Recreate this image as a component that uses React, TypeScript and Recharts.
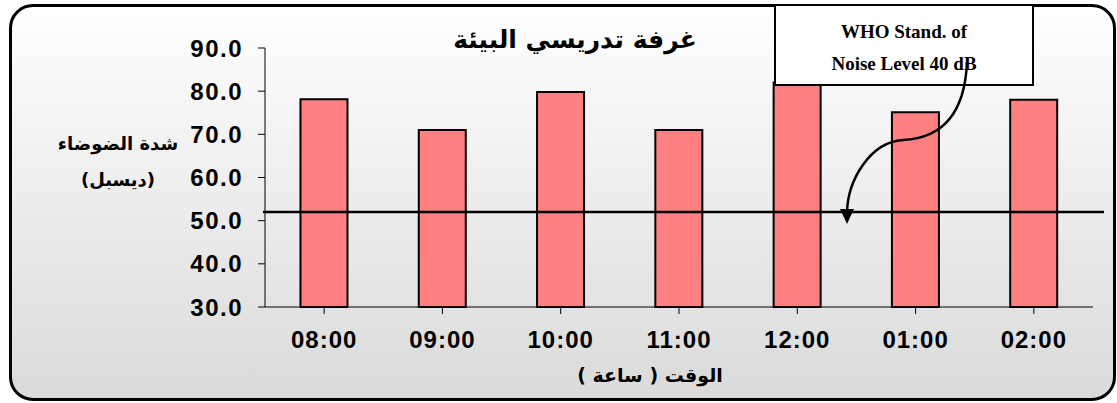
import React from "react";
import {
  BarChart,
  Bar,
  XAxis,
  YAxis,
  ReferenceLine,
} from "recharts";

const hours = ["08:00", "09:00", "10:00", "11:00", "12:00", "01:00", "02:00"];
const noiseLevels = [78.1, 71.0, 79.8, 71.0, 82.0, 75.1, 78.0];
const yTicks = [30, 40, 50, 60, 70, 80, 90];
const standardLevel = 52;

const data = hours.map((hour, i) => ({ hour, noise: noiseLevels[i] }));

const arabicFont = "'DejaVu Sans', Arial, sans-serif";
const tickFont = "'Liberation Sans', Arial, sans-serif";

if (typeof document !== "undefined") {
  document.body.style.margin = "0";
}

// reference line runs a little past the plot on the right, like the original
const StandardLine = (props: any) => {
  const { x1, y1, x2, y2 } = props;
  if (x1 == null || y1 == null) return null;
  return <line x1={x1 - 2} y1={y1} x2={x2 + 11} y2={y2} stroke="#000" strokeWidth={2.5} />;
};

export default function App() {
  return (
    <div style={{ position: "relative", width: 1117, height: 403, overflow: "hidden" }}>
      {/* rounded chart frame with grey gradient */}
      <div
        style={{
          position: "absolute",
          left: 9,
          top: 4,
          width: 1101,
          height: 391,
          border: "3px solid #000",
          borderRadius: 24,
          background: "linear-gradient(#ffffff, #dadada)",
        }}
      />

      <div style={{ position: "absolute", left: 0, top: 0 }}>
        <BarChart
          width={1117}
          height={403}
          data={data}
          margin={{ top: 48, right: 24, left: 0, bottom: 66 }}
          barCategoryGap="30%"
        >
          <XAxis
            dataKey="hour"
            interval={0}
            height={30}
            axisLine={{ stroke: "#000", strokeWidth: 1 }}
            tickLine={{ stroke: "#000" }}
            tickSize={7}
            tickMargin={17}
            tick={{ fill: "#000", fontSize: 24, fontWeight: 700, fontFamily: tickFont, letterSpacing: 1 }}
          />
          <YAxis
            width={265}
            domain={[30, 90]}
            ticks={yTicks}
            interval={0}
            tickFormatter={(v: number) => v.toFixed(1)}
            axisLine={{ stroke: "#000", strokeWidth: 1 }}
            tickLine={{ stroke: "#000" }}
            tickSize={7}
            tickMargin={15}
            tick={{ fill: "#000", fontSize: 24, fontWeight: 700, fontFamily: tickFont, letterSpacing: 1.5 }}
          />
          <Bar
            dataKey="noise"
            fill="#ff8080"
            stroke="#000"
            strokeWidth={2}
            isAnimationActive={false}
          />
          <ReferenceLine y={standardLevel} shape={StandardLine} />
        </BarChart>
      </div>

      {/* title */}
      <div
        style={{
          position: "absolute",
          left: 375,
          top: 25,
          width: 400,
          textAlign: "center",
          direction: "rtl",
          fontFamily: arabicFont,
          fontWeight: 700,
          fontSize: 25,
        }}
      >
        غرفة تدريسي البيئة
      </div>

      {/* y axis title */}
      <div
        style={{
          position: "absolute",
          left: 38,
          top: 126,
          width: 160,
          textAlign: "center",
          direction: "rtl",
          fontFamily: arabicFont,
          fontWeight: 700,
          fontSize: 18,
          lineHeight: "36px",
        }}
      >
        شدة الضوضاء
        <br />
        (ديسبل)
      </div>

      {/* x axis title */}
      <div
        style={{
          position: "absolute",
          left: 550,
          top: 364,
          width: 200,
          textAlign: "center",
          direction: "rtl",
          fontFamily: arabicFont,
          fontWeight: 700,
          fontSize: 19,
        }}
      >
        الوقت ( ساعة )
      </div>

      {/* WHO standard annotation */}
      <div
        style={{
          position: "absolute",
          left: 774,
          top: 4,
          width: 260,
          height: 82,
          boxSizing: "border-box",
          border: "2px solid #000",
          background: "#fff",
          textAlign: "center",
          fontFamily: "'Liberation Serif', 'Times New Roman', serif",
          fontWeight: 700,
          fontSize: 19,
          lineHeight: "32px",
          paddingTop: 10,
        }}
      >
        WHO Stand. of
        <br />
        Noise Level 40 dB
      </div>

      <svg
        width={1117}
        height={403}
        style={{ position: "absolute", left: 0, top: 0, pointerEvents: "none" }}
      >
        <path
          d="M967,62 C965,110 945,138 903,140 C870,142 848,180 847,212"
          fill="none"
          stroke="#000"
          strokeWidth={2.5}
        />
        <polygon points="840,209 854,209 847,224" fill="#000" />
      </svg>
    </div>
  );
}
